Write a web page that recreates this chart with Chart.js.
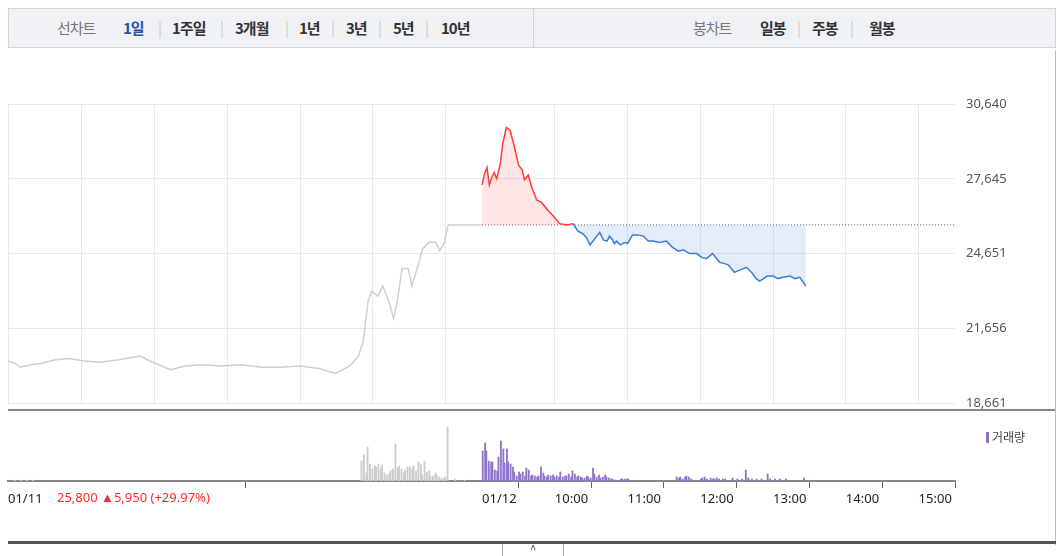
<!DOCTYPE html>
<html>
<head>
<meta charset="utf-8">
<script src="https://cdn.jsdelivr.net/npm/chart.js@4"></script>
<style>
body{margin:0;background:#fff;font-family:"Noto Sans CJK KR","Noto Sans",sans-serif;}
#wrap{position:relative;width:1063px;height:556px;overflow:hidden;}
#bar{position:absolute;left:8px;top:8px;width:1046px;height:38px;background:#f0f1f5;border:1px solid #cfd3dc;}
#bar span{position:absolute;top:8px;font-size:15px;font-weight:bold;color:#333;letter-spacing:-1px;}
#bar .g{color:#777;font-weight:normal;}
#bar .sep{color:#ccc;font-weight:normal;}
#div{position:absolute;left:524px;top:0;width:1px;height:38px;background:#cfd3dc;}
#c1{position:absolute;left:0;top:60px;}
#c2{position:absolute;left:0;top:412px;}
#hl{position:absolute;left:8px;top:409px;width:1047px;height:2px;background:#888;}
#rl{position:absolute;left:1055px;top:50px;width:1px;height:495px;background:#bbb;}
#bl{position:absolute;left:8px;top:541px;width:1048px;height:3px;background:#555;}
#btn{position:absolute;left:502px;top:544px;width:60px;height:14px;border:1px solid #aaa;border-top:none;background:#fff;text-align:center;font-size:12px;line-height:10px;color:#345;}
#leg{position:absolute;left:986px;top:428px;font-size:12px;color:#444;}
#leg i{display:inline-block;width:3px;height:11px;background:#8e6fc9;margin-right:3px;vertical-align:-1px;}
</style>
</head>
<body>
<div id="wrap">
  <div id="bar">
    <span class="g" style="left:48px">선차트</span>
    <span style="left:114px;color:#2a4fa8">1일</span>
    <span class="sep" style="left:149px">|</span>
    <span style="left:163px">1주일</span>
    <span class="sep" style="left:211px">|</span>
    <span style="left:226px">3개월</span>
    <span class="sep" style="left:276px">|</span>
    <span style="left:290px">1년</span>
    <span class="sep" style="left:322px">|</span>
    <span style="left:337px">3년</span>
    <span class="sep" style="left:369px">|</span>
    <span style="left:384px">5년</span>
    <span class="sep" style="left:416px">|</span>
    <span style="left:432px">10년</span>
    <div id="div"></div>
    <span class="g" style="left:684px">봉차트</span>
    <span style="left:751px">일봉</span>
    <span class="sep" style="left:788px">|</span>
    <span style="left:803px">주봉</span>
    <span class="sep" style="left:841px">|</span>
    <span style="left:860px">월봉</span>
  </div>
  <canvas id="c1" width="1063" height="362"></canvas>
  <div id="hl"></div>
  <canvas id="c2" width="1063" height="100"></canvas>
  <div id="leg"><i></i>거래량</div>
  <div id="rl"></div>
  <div id="bl"></div>
  <div id="btn">^</div>
</div>
<script>
// x = minutes relative to 01/12 09:00 (previous session compressed to the left)
const prevClose = 25800;
const yTicks = [18661, 21656, 24651, 27645, 30640];
const timeTicks = [-391, 0, 60, 120, 180, 240, 300, 360];
const timeLabels = ['01/11', '01/12', '10:00', '11:00', '12:00', '13:00', '14:00', '15:00'];
const gridX = [-391, -330, -270, -210, -150, -90, -30, 60, 120, 180, 240, 300, 360];

const prevMin = [-391,-385,-381,-372,-364,-352,-340,-328,-315,-300,-282,-274,-257,-245,-232,-215,-199,-182,-166,-150,-134,-121,-109,-102,-98,-94,-91,-86,-82,-77,-73,-70,-66,-61,-58,-53,-49,-44,-38,-35,-31,-28,0];
const prevPrice = [20350,20250,20100,20200,20250,20400,20450,20350,20300,20400,20550,20350,20000,20150,20200,20150,20200,20100,20100,20150,20050,19850,20150,20550,21150,22750,23150,22950,23350,22750,22050,22750,24050,24050,23350,24150,24850,25100,25100,24750,25100,25800,25800];

const dayMin = [0,2,4,6,8,10,12,15,17,20,23,26,30,33,35,38,41,45,49,54,58,64,70,75,79,83,86,89,93,97,100,103,105,107,109,111,114,116,118,120,124,128,133,137,141,146,152,157,162,166,171,177,181,185,190,196,200,203,208,213,218,223,226,229,232,235,240,244,248,254,258,262,265,267];
const dayPrice = [27400,27850,28100,27400,27700,27900,27650,28250,29050,29700,29600,29050,28200,28000,27600,27800,27300,26800,26700,26400,26200,25850,25800,25850,25550,25450,25300,25000,25250,25500,25200,25150,25350,25250,25050,25150,25000,25050,25100,25050,25400,25400,25350,25150,25150,25100,25150,24900,24750,24800,24650,24650,24500,24450,24650,24300,24250,24200,23900,24000,24100,23850,23650,23550,23650,23750,23750,23650,23700,23750,23650,23700,23500,23350];

const prevVolMin = [-385,-380,-375,-370,-99,-97,-95,-94,-92,-90,-88,-87,-85,-83,-82,-80,-78,-76,-75,-73,-71,-69,-68,-66,-64,-63,-61,-59,-57,-56,-54,-52,-50,-49,-47,-45,-43,-42,-40,-38,-37,-35,-33,-31,-30,-28,-22,-14];
const prevVol = [1,1,1,1,20,26,8,34,17,12,15,14,17,12,16,8,6,7,10,12,37,13,15,12,8,11,14,14,12,15,10,19,17,6,20,9,10,5,5,8,6,4,3,2,4,54,2,1];

const dayVolMin = [0,2,3,5,7,8,10,12,13,15,17,18,20,21,23,25,26,28,30,31,33,35,36,38,40,41,43,45,46,48,50,51,53,54,56,58,59,61,63,64,66,68,69,71,73,74,76,78,79,81,82,84,86,87,89,91,92,94,96,97,99,101,102,104,106,107,109,114,115,117,119,120,160,162,163,165,167,168,170,172,180,181,183,185,188,190,191,193,195,198,200,206,210,214,217,219,222,226,230,235,237,241,245,250,265];
const dayVol = [30,38,30,20,19,19,11,10,24,40,32,18,32,19,17,14,9,5,9,7,9,5,13,11,5,6,5,4,5,14,8,5,4,6,5,6,4,5,4,9,4,5,5,7,4,10,7,4,5,4,3,3,5,4,3,13,7,4,6,3,4,6,4,3,2,2,1,2,2,2,2,2,4,3,4,2,4,5,4,2,2,3,4,2,3,2,2,3,2,2,2,3,2,2,11,3,2,2,2,7,2,2,2,2,3];

const xy = (xs, ys) => xs.map((x, i) => ({x: x, y: ys[i]}));
const RED = '#ff3c3c', BLUE = '#3a7bdc';

new Chart(document.getElementById('c1'), {
  type: 'line',
  data: {datasets: [
    {data: xy(prevMin, prevPrice), borderColor: '#cfcfcf', borderWidth: 1.5, pointRadius: 0, tension: 0},
    {data: xy(dayMin, dayPrice), borderWidth: 1.5, pointRadius: 0, tension: 0,
     segment: {borderColor: c => (c.p0.parsed.y + c.p1.parsed.y) / 2 >= prevClose ? RED : BLUE},
     fill: {target: {value: prevClose}, above: 'rgba(255,110,110,0.18)', below: 'rgba(120,160,230,0.2)'}},
    {data: [{x: 0, y: prevClose}, {x: 390, y: prevClose}], borderColor: '#555', borderWidth: 1, borderDash: [1, 2], pointRadius: 0}
  ]},
  options: {
    responsive: false, animation: false,
    layout: {padding: {left: 8, top: 44, bottom: 8, right: 0}},
    plugins: {legend: {display: false}, tooltip: {enabled: false}},
    scales: {
      x: {type: 'linear', min: -391, max: 390,
        afterBuildTicks: s => { s.ticks = gridX.map(v => ({value: v})); },
        afterFit: s => { s.height = 0; },
        ticks: {display: false}, border: {display: false},
        grid: {color: '#e8e8e8', tickLength: 0}},
      y: {position: 'right', min: 18661, max: 30640,
        afterBuildTicks: s => { s.ticks = yTicks.map(v => ({value: v})); },
        afterFit: s => { s.width = 108; },
        ticks: {padding: 11, color: '#555', font: {size: 13, family: 'Noto Sans'},
          callback: v => v.toLocaleString('en-US')},
        border: {display: false},
        grid: {color: '#e8e8e8', tickLength: 0}}
    }
  }
});

const labelPlugin = {
  id: 'chg',
  afterDraw(chart) {
    const ctx = chart.ctx;
    ctx.save();
    ctx.font = '13px "Noto Sans"';
    ctx.fillStyle = '#ff2a2a';
    ctx.textBaseline = 'middle';
    ctx.fillText('25,800 ▲5,950 (+29.97%)', 57, 86);
    ctx.restore();
  }
};

new Chart(document.getElementById('c2'), {
  type: 'bar',
  data: {datasets: [
    {data: xy(prevVolMin, prevVol), backgroundColor: '#cccccc', barThickness: 1.2},
    {data: xy(dayVolMin, dayVol), backgroundColor: '#9075cc', barThickness: 1.2}
  ]},
  options: {
    responsive: false, animation: false,
    layout: {padding: {left: 8, top: 13, bottom: 0, right: 0}},
    plugins: {legend: {display: false}, tooltip: {enabled: false}},
    scales: {
      x: {type: 'linear', min: -391, max: 390, offset: false,
        afterBuildTicks: s => { s.ticks = timeTicks.map(v => ({value: v})); },
        afterFit: s => { s.height = 31; },
        ticks: {align: 'start', maxRotation: 0, autoSkip: false, padding: 3, color: '#222',
          font: {size: 13, family: 'Noto Sans'},
          callback: (v, i) => timeLabels[i]},
        border: {color: '#888', width: 2},
        grid: {drawOnChartArea: false, color: '#666', tickLength: 7}},
      y: {position: 'right', min: 0, max: 56, display: true,
        afterFit: s => { s.width = 108; },
        ticks: {display: false}, border: {display: false}, grid: {display: false}}
    }
  },
  plugins: [labelPlugin]
});
</script>
</body>
</html>
